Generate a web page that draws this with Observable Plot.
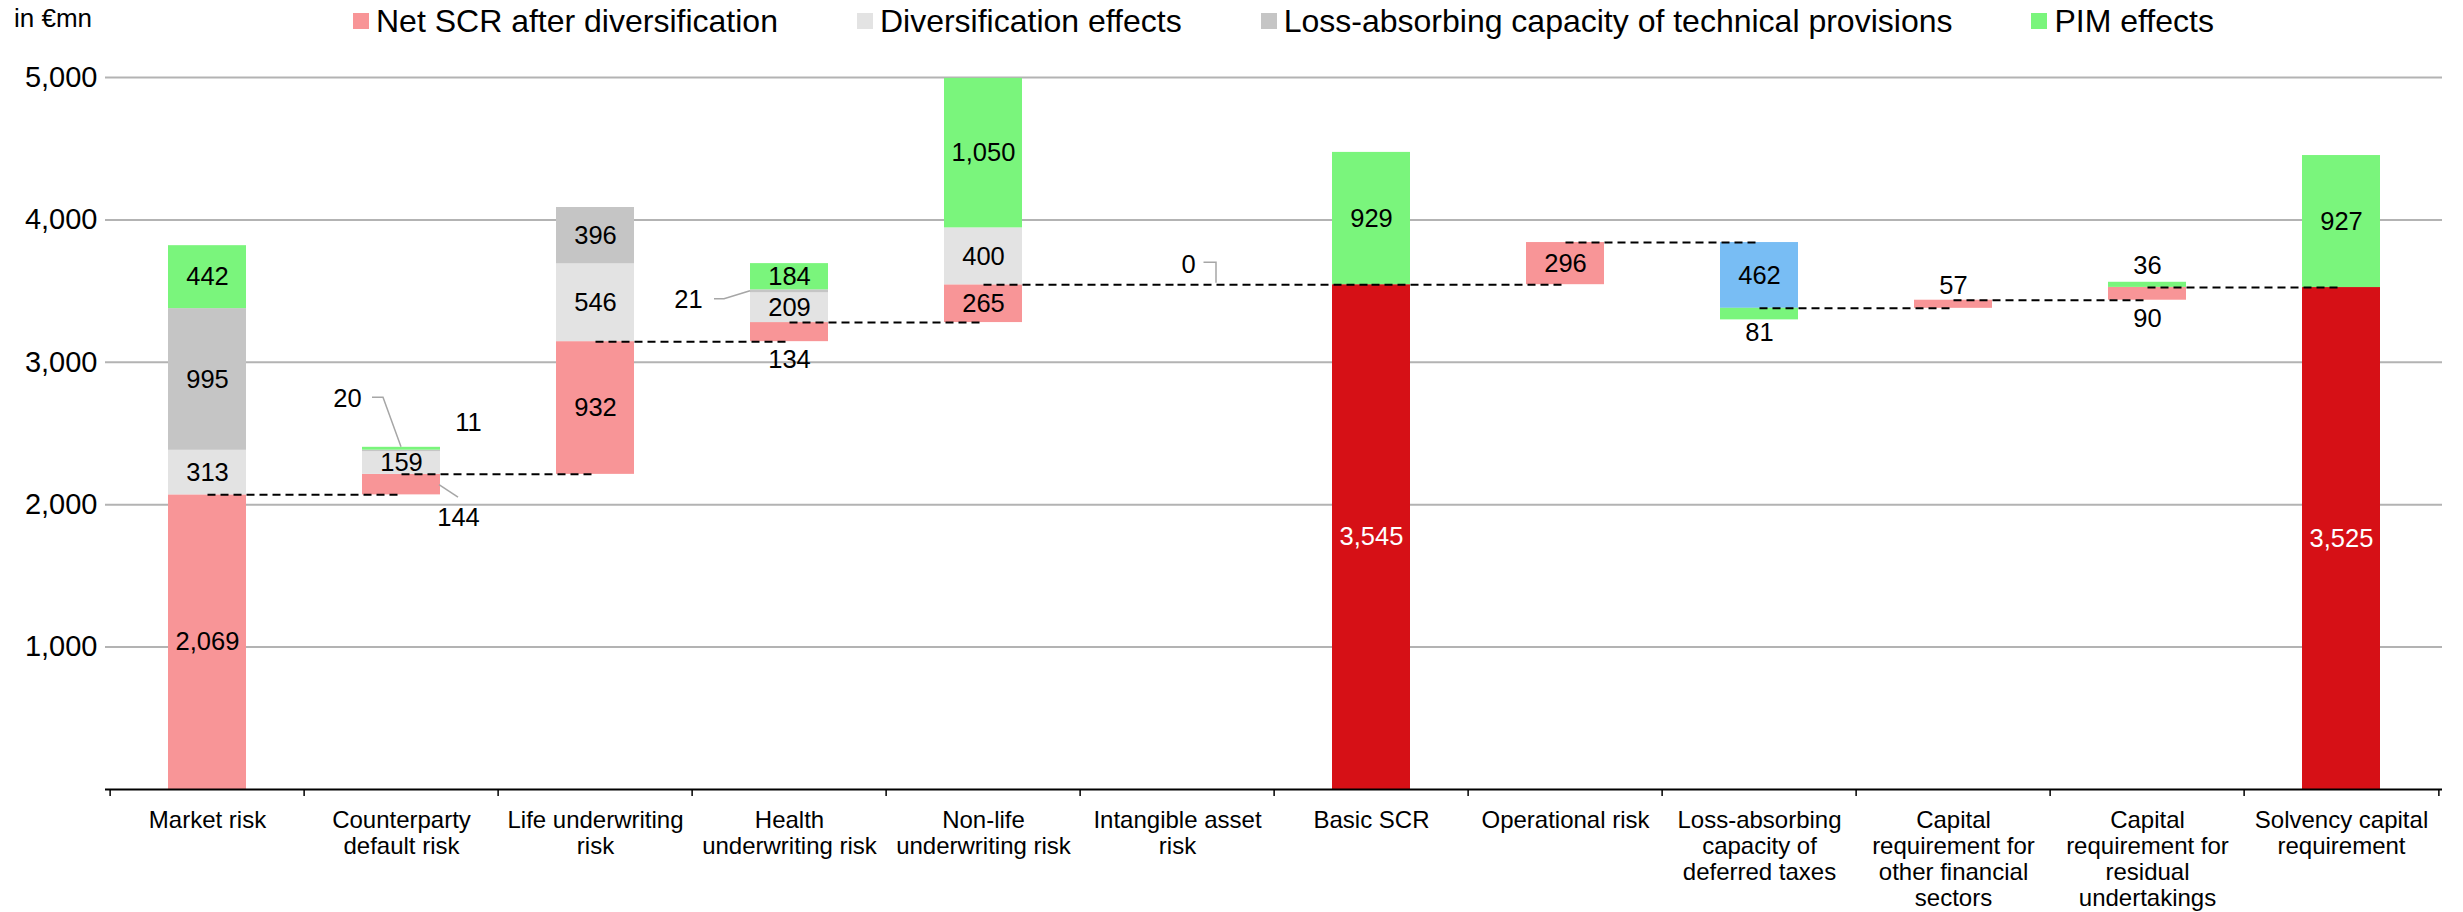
<!DOCTYPE html>
<html>
<head>
<meta charset="utf-8">
<script src="https://cdn.jsdelivr.net/npm/d3@7"></script>
<script src="https://cdn.jsdelivr.net/npm/@observablehq/plot@0.6"></script>
<style>
  body { margin: 0; background: #fff; font-family: "Liberation Sans", Arial, sans-serif; color: #000; }
  #head { position: relative; width: 2463px; height: 50px; }
  #unit { position: absolute; left: 14px; top: 5px; font-size: 26px; line-height: 26px; }
  #legend { position: absolute; left: 353px; top: 5px; display: flex; font-size: 32px; line-height: 32px; }
  .item { display: flex; align-items: center; margin-right: 79px; white-space: nowrap; }
  .swatch { width: 16px; height: 16px; margin-right: 7px; }
</style>
</head>
<body>
<div id="head">
  <div id="unit">in €mn</div>
  <div id="legend"></div>
</div>
<div id="chart"></div>
<script>
// Risk modules and aggregation steps, left to right
const categories = [
  "Market risk", "Counterparty default risk", "Life underwriting risk", "Health underwriting risk",
  "Non-life underwriting risk", "Intangible asset risk", "Basic SCR", "Operational risk",
  "Loss-absorbing capacity of deferred taxes", "Capital requirement for other financial sectors",
  "Capital requirement for residual undertakings", "Solvency capital requirement"
];
// Axis labels with their line breaks
const categoryLabels = [
  "Market risk", "Counterparty\ndefault risk", "Life underwriting\nrisk", "Health\nunderwriting risk",
  "Non-life\nunderwriting risk", "Intangible asset\nrisk", "Basic SCR", "Operational risk",
  "Loss-absorbing\ncapacity of\ndeferred taxes", "Capital\nrequirement for\nother financial\nsectors",
  "Capital\nrequirement for\nresidual\nundertakings", "Solvency capital\nrequirement"
];
// "risk" adds to the running total, "total" restarts from zero, "tax" is a deduction
const stepType = ["risk", "risk", "risk", "risk", "risk", "risk", "total", "risk", "tax", "risk", "risk", "total"];
// Values in €mn
const netScr = [2069, 144, 932, 134, 265, 0, 3545, 296, -462, 57, 90, 3525];
const diversification = [313, 159, 546, 209, 400, 0, 0, 0, 0, 0, 0, 0];
const lacTechnicalProvisions = [995, 11, 396, 21, 0, 0, 0, 0, 0, 0, 0, 0];
const pimEffects = [442, 20, 0, 184, 1050, 0, 929, 0, 81, 0, 36, 927];
const yTicks = [1000, 2000, 3000, 4000, 5000];

const legendSeries = [
  "Net SCR after diversification", "Diversification effects",
  "Loss-absorbing capacity of technical provisions", "PIM effects"
];
const seriesDomain = [...legendSeries, "Total", "Deferred taxes"];
const seriesColors = ["#F89597", "#E3E3E3", "#C5C5C5", "#7AF57C", "#D61016", "#78BDF4"];

// Stack each category's segments on the running total
const segments = [];
const connectors = [];
let level = 0;
categories.forEach((category, i) => {
  const type = stepType[i];
  const start = type === "total" ? 0 : level;
  const sign = netScr[i] < 0 ? -1 : 1;
  const end = start + netScr[i];
  const netSeries = type === "total" ? "Total" : type === "tax" ? "Deferred taxes" : legendSeries[0];
  segments.push({category, series: netSeries, y1: start, y2: end, value: Math.abs(netScr[i])});
  level = end;
  let edge = end;
  [[legendSeries[1], diversification], [legendSeries[2], lacTechnicalProvisions], [legendSeries[3], pimEffects]]
    .forEach(([series, values]) => {
      if (values[i] > 0) {
        segments.push({category, series, y1: edge, y2: edge + sign * values[i], value: values[i]});
        edge += sign * values[i];
      }
    });
  if (i + 1 < categories.length) connectors.push({from: category, to: categories[i + 1], level});
});
segments.forEach(d => { d.mid = (d.y1 + d.y2) / 2; d.key = d.category + "|" + d.series; });

// Labels set beside small segments: pixel offsets from the segment centre, with optional leader
const callouts = {
  "Counterparty default risk|PIM effects": {dx: -54, dy: -50, leader: [[-29, -51], [-18, -51], [0, -1.5]]},
  "Counterparty default risk|Loss-absorbing capacity of technical provisions": {dx: 67, dy: -28.5},
  "Counterparty default risk|Net SCR after diversification": {dx: 57, dy: 33, leader: [[38, 0.5], [57, 13]]},
  "Health underwriting risk|Loss-absorbing capacity of technical provisions": {dx: -101, dy: 9, leader: [[-75, 8], [-65, 8], [-39, 0]]},
  "Health underwriting risk|Net SCR after diversification": {dx: 0, dy: 28},
  "Intangible asset risk|Net SCR after diversification": {dx: 11, dy: -20, leader: [[26.5, -22], [39, -22], [39, -1.5]]},
  "Loss-absorbing capacity of deferred taxes|PIM effects": {dx: 0, dy: 19},
  "Capital requirement for other financial sectors|Net SCR after diversification": {dx: 0, dy: -18},
  "Capital requirement for residual undertakings|PIM effects": {dx: 0, dy: -19},
  "Capital requirement for residual undertakings|Net SCR after diversification": {dx: 0, dy: 25}
};

const fmt = d3.format(",");
const width = 2463, height = 862, marginLeft = 105, marginRight = 21;
const step = (width - marginLeft - marginRight) / categories.length;

const inside = segments.filter(d => !(d.key in callouts));
const outside = segments.filter(d => d.key in callouts);

// Grey leader lines from callout labels to their segments
const leaders = (index, scales) => {
  const g = d3.create("svg:g").attr("fill", "none").attr("stroke", "#A6A6A6").attr("stroke-width", 1.5);
  for (const d of outside) {
    const c = callouts[d.key];
    if (!c.leader) continue;
    const cx = scales.x(d.category) + scales.x.bandwidth() / 2;
    const cy = scales.y(d.mid);
    g.append("polyline").attr("points", c.leader.map(([dx, dy]) => `${cx + dx},${cy + dy}`).join(" "));
  }
  return g.node();
};

const chart = Plot.plot({
  width, height,
  marginTop: 27, marginBottom: 123, marginLeft, marginRight,
  style: {fontFamily: "'Liberation Sans', Arial, sans-serif", background: "#fff", color: "#000", overflow: "visible"},
  x: {type: "band", domain: categories, paddingInner: 0.6, paddingOuter: 0.3, axis: null},
  y: {domain: [0, 5000], axis: null},
  color: {domain: seriesDomain, range: seriesColors},
  marks: [
    Plot.ruleY(yTicks, {stroke: "#B3B3B3", strokeWidth: 2}),
    Plot.axisY({ticks: yTicks, tickSize: 0, tickPadding: 8, fontSize: 29, tickFormat: fmt, label: null}),
    Plot.barY(segments, {x: "category", y1: "y1", y2: "y2", fill: "series"}),
    Plot.ruleY([0], {stroke: "#000", strokeWidth: 2}),
    Plot.ruleX(categories, {x: d => d, y1: 0, y2: 0, insetBottom: -7, dx: -step / 2, stroke: "#000", strokeWidth: 1.5}),
    Plot.ruleX(categories.slice(-1), {x: d => d, y1: 0, y2: 0, insetBottom: -7, dx: step / 2, stroke: "#000", strokeWidth: 1.5}),
    Plot.text(categories, {x: d => d, y: () => 0, text: (d, i) => categoryLabels[i], lineAnchor: "top", dy: 20, fontSize: 24, lineHeight: 1.08, fill: "#000"}),
    Plot.link(connectors, {x1: "from", x2: "to", y1: "level", y2: "level", stroke: "#000", strokeWidth: 2, strokeDasharray: "8,5"}),
    Plot.text(inside, {x: "category", y: "mid", text: d => fmt(d.value), fontSize: 25.5, fill: d => d.series === "Total" ? "#fff" : "#000"}),
    ...outside.map(d => Plot.text([d], {x: "category", y: "mid", text: d => fmt(d.value), fontSize: 25.5, fill: "#000", dx: callouts[d.key].dx, dy: callouts[d.key].dy})),
    leaders
  ]
});
document.getElementById("chart").appendChild(chart);

// Legend for the four stacked components
const legend = d3.select("#legend");
legendSeries.forEach((s, i) => {
  const item = legend.append("div").attr("class", "item");
  item.append("div").attr("class", "swatch").style("background", seriesColors[i]);
  item.append("span").text(s);
});
</script>
</body>
</html>
